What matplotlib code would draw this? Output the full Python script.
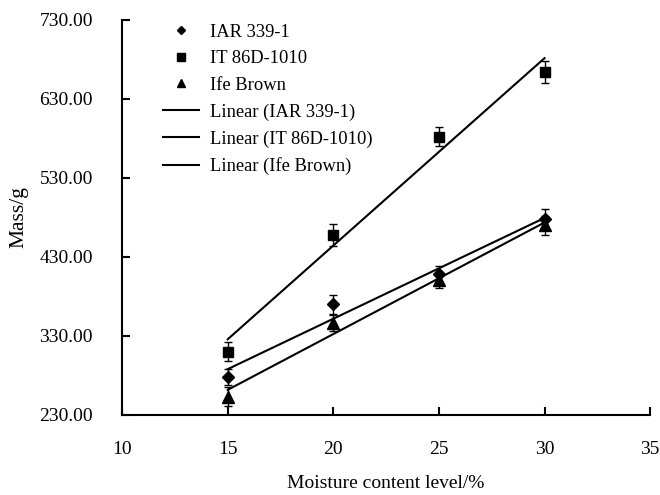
import matplotlib
matplotlib.use("Agg")
import matplotlib.pyplot as plt
import numpy as np
from matplotlib.lines import Line2D

plt.rcParams['font.family'] = ['Liberation Serif', 'DejaVu Serif']

moisture = [15, 20, 25, 30]
iar = [278, 370, 408, 478]
it86 = [310, 458, 582, 664]
ife = [253, 346, 401, 470]
iar_err = [10, 12, 10, 12]
it86_err = [12, 14, 12, 14]
ife_err = [12, 10, 10, 12]
names = ['IAR 339-1', 'IT 86D-1010', 'Ife Brown']
yticks = [230, 330, 430, 530, 630, 730]
xticks = [10, 15, 20, 25, 30, 35]
markers = ['D', 's', '^']
msizes = [6, 7, 8]
leg_msizes = [4.5, 5.5, 6]

fig = plt.figure(figsize=(6.6, 4.95), dpi=100)
ax = fig.add_axes([0.185, 0.162, 0.8, 0.798])

series = [iar, it86, ife]
errs = [iar_err, it86_err, ife_err]
for name, ys, er, mk, ms in zip(names, series, errs, markers, msizes):
    ax.errorbar(moisture, ys, yerr=er, fmt=mk, color='black', ms=ms,
                elinewidth=1, capsize=3, capthick=1, label=name)
handles_lines = []
for name, ys in zip(names, series):
    k, b = np.polyfit(moisture, ys, 1)
    xs = np.array([moisture[0], moisture[-1]])
    ln, = ax.plot(xs, k * xs + b, color='black', lw=1.5, label=f'Linear ({name})')
    handles_lines.append(ln)

leg_handles = [Line2D([], [], ls='none', marker=mk, color='black', ms=ms)
               for mk, ms in zip(markers, leg_msizes)] + handles_lines
leg_labels = names + [f'Linear ({n})' for n in names]
ax.legend(leg_handles, leg_labels, loc='upper left', bbox_to_anchor=(0.078, 0.99),
          frameon=False, fontsize=13.3, handlelength=1.95, handletextpad=0.6,
          labelspacing=0.52, borderaxespad=0, borderpad=0)

ax.set_xlim(10, 35)
ax.set_ylim(230, 730)
ax.set_xticks(xticks)
ax.set_yticks(yticks)
ax.set_yticklabels([f'{v:.2f}' for v in yticks])
ax.spines['top'].set_visible(False)
ax.spines['right'].set_visible(False)
ax.spines['left'].set_linewidth(1.5)
ax.spines['bottom'].set_linewidth(1.5)
ax.tick_params(axis='both', direction='in', length=6, width=1.5, labelsize=14)
ax.tick_params(axis='x', pad=18.5)
ax.tick_params(axis='y', pad=21)
ax.set_xlabel('Moisture content level/%', fontsize=14, labelpad=12.5)
ax.set_ylabel('Mass/g', fontsize=15.5, labelpad=8)

fig.savefig('out.png', dpi=100)
